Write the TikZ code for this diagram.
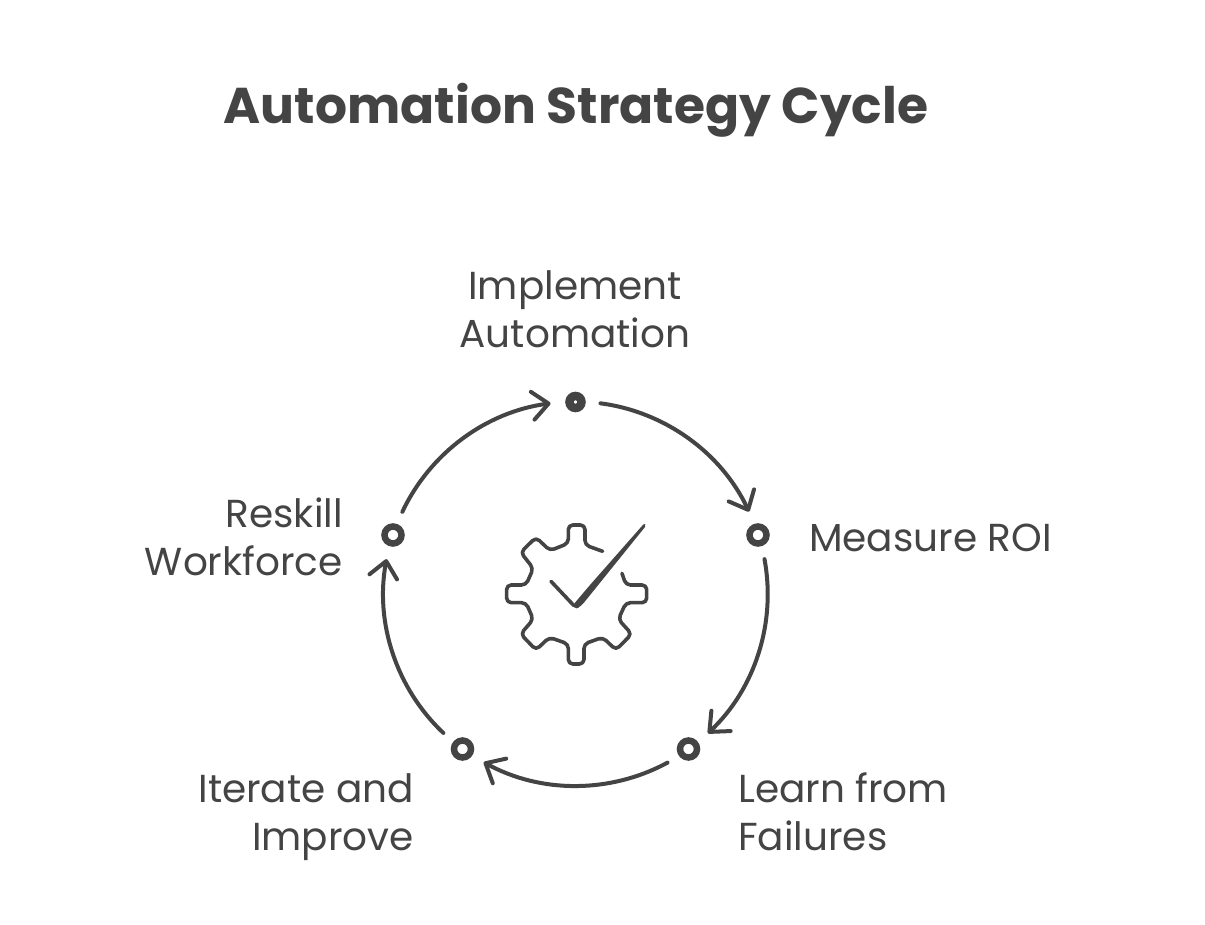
\documentclass[tikz,border=0pt]{standalone}
\usepackage{fontspec}
\setmainfont{Poppins}
\usetikzlibrary{arrows.meta}
\definecolor{ink}{HTML}{444444}
\tikzset{
  dotbig/.style={circle,draw=ink,fill=white,line width=6.5pt,minimum size=17pt,inner sep=0pt,outer sep=16.5pt},
  dotsmall/.style={circle,draw=ink,fill=white,line width=8.5pt,minimum size=12pt,inner sep=0pt,outer sep=19pt},
  lbl/.style={text=ink,font=\fontsize{39}{48}\selectfont,inner sep=0pt,align=#1},
  link/.style={draw=ink,line width=4pt,line cap=round,looseness=0.905,-{Straight Barb[length=16pt,width=28pt,round,line width=4pt]}},
  icon/.style={draw=ink,line width=3.6pt,line cap=round,line join=round}
}
\begin{document}
\begin{tikzpicture}[x=1pt,y=-1pt]
\useasboundingbox (0,0) rectangle (1205,924);
\fill[white] (0,0) rectangle (1205,924);
\node[text=ink,font=\fontsize{50.3}{60}\selectfont\bfseries,inner sep=0pt,anchor=base] (title) at (576,123) {Automation Strategy Cycle};
\node[dotsmall] (n1) at (575.5,402) {};
\node[dotbig] (n2) at (758,535) {};
\node[dotbig] (n3) at (688.5,749) {};
\node[dotbig] (n4) at (462.5,749) {};
\node[dotbig] (n5) at (393,535) {};
\node[lbl=center] (t1) at (575,313.4) {\strut Implement\\\strut Automation};
\node[lbl=left,anchor=west] (t2) at (809,541.4) {\strut Measure ROI};
\node[lbl=left,anchor=west] (t3) at (738,816.4) {\strut Learn from\\\strut Failures};
\node[lbl=right,anchor=east] (t4) at (414,816.4) {\strut Iterate and\\\strut Improve};
\node[lbl=right,anchor=east] (t5) at (343,541.4) {\strut Reskill\\\strut Workforce};
\draw[link] (n1.-3.7) to[bend left=28.6] (n2.111.7);
\draw[link] (n2.-75.7) to[bend left=28.6] (n3.39.7);
\draw[link] (n3.-147.7) to[bend left=28.6] (n4.-32.3);
\draw[link] (n4.140.3) to[bend left=28.6] (n5.255.7);
\draw[link] (n5.68.3) to[bend left=28.6] (n1.183.7);
\begin{scope}[shift={(490,510)},x=0.3333pt,y=-0.3333pt]
\draw[icon,rounded corners=4.5pt] (338,124) -- (285,105) -- (285,45) -- (235,45) -- (235,100) -- (180,122) -- (138,82) -- (92,127) -- (130,175) -- (108,225) -- (50,225) -- (50,278) -- (108,278) -- (130,328) -- (92,372) -- (138,420) -- (178,382) -- (235,402) -- (235,462) -- (282,462) -- (282,402) -- (338,382) -- (378,420) -- (425,372) -- (385,328) -- (408,278) -- (470,278) -- (470,225) -- (408,225) -- (396,190);
\draw[icon] (183,214) -- (250,285) -- (262,290);
\fill[ink,rounded corners=2pt] (250,284) -- (262,295) -- (277,284) -- (469,46) -- (463,40) -- (300,225) -- cycle;
\end{scope}
\end{tikzpicture}
\end{document}
